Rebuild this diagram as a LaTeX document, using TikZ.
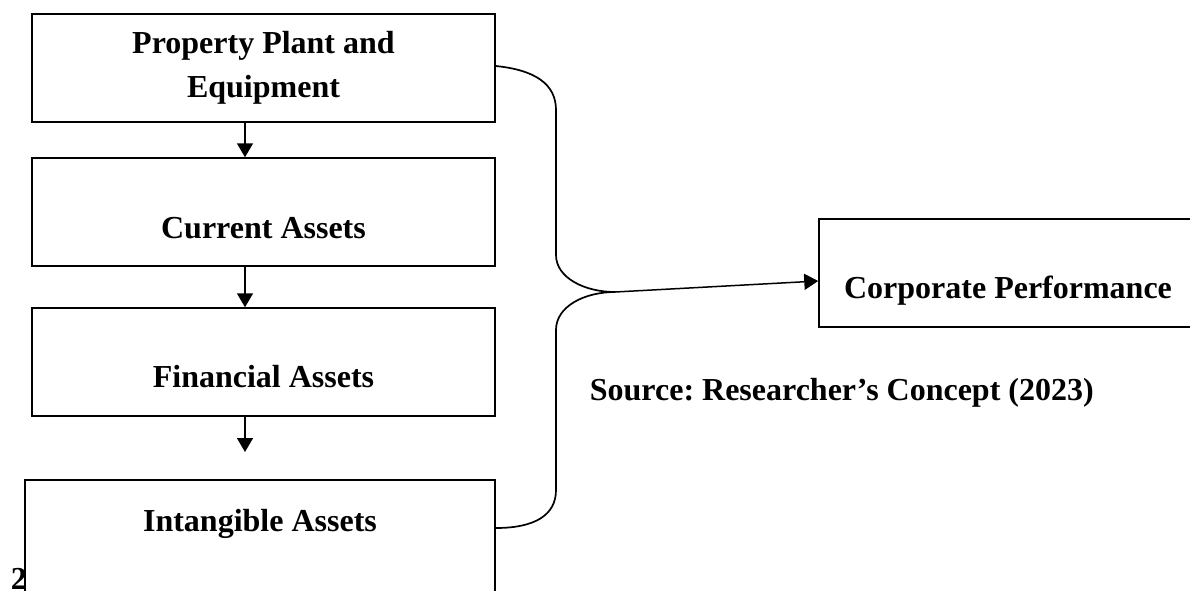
\documentclass[tikz,border=0pt]{standalone}
\usepackage{fontspec}
\setmainfont{Liberation Serif}
\usetikzlibrary{arrows.meta,calc}
\frenchspacing

\tikzset{
  assetbox/.style={draw, line width=0.75pt, rectangle, inner sep=0pt, minimum width=231.5pt, minimum height=54pt},
  lbl/.style={font=\bfseries\fontsize{16}{22}\selectfont, inner sep=0.75pt, align=center},
  flow/.style={line width=0.75pt, -{Triangle[length=7pt,width=8pt]}},
  brace/.style={line width=0.85pt},
}

\begin{document}
\begin{tikzpicture}[x=0.5pt,y=0.5pt,yscale=-1,xscale=1]
\useasboundingbox (0,0) rectangle (1190,590);

%Shapes: Rect
\node[assetbox] (ppe) at (263.5,68) {};
\node[assetbox] (cur) at (263.5,212) {};
\node[assetbox] (fin) at (263.5,362) {};
\node[assetbox, minimum width=235pt, minimum height=70pt] (intang) at (260,550) {};
\node[assetbox, minimum width=205.5pt] (corp) at (1024.5,273) {};

%Straight Lines
\coordinate (a3end) at (245,452);
\draw[flow] ([xshift=-9.25pt]ppe.south) -- ([xshift=-9.25pt]cur.north);
\draw[flow] ([xshift=-9.25pt]cur.south) -- ([xshift=-9.25pt]fin.north);
\draw[flow] ([xshift=-9.25pt]fin.south) -- (a3end);

%Curve Lines
\coordinate (join) at (615,292);
\draw[brace] ([yshift=-1pt]ppe.east) .. controls (535,70) and (556,84) .. (556,110) -- (556,255) .. controls (556,278) and (585,292) .. (join);
\draw[brace] ([yshift=-11pt]intang.east) .. controls (535,528) and (556,515) .. (556,490) -- (556,330) .. controls (556,306) and (585,292) .. (join);
\draw[flow] (join) -- ([yshift=4pt]corp.west);

% Text Node
\node[lbl] (tppe) at (263.5,68) {Property Plant and\\Equipment};
% Text Node
\node[lbl, anchor=base] (tcur) at (263.5,238) {Current Assets};
% Text Node
\node[lbl, anchor=base] (tfin) at (263.5,387) {Financial Assets};
% Text Node
\node[lbl, anchor=base] (tint) at (260,531) {Intangible Assets};
% Text Node
\node[lbl, anchor=base] (tcorp) at (1008,298) {Corporate Performance};
% Text Node
\node[lbl, anchor=base west] (src) at (588,400) {Source: Researcher’s Concept (2023)};
% Text Node
\node[lbl, anchor=base west] (pnum) at (9,589) {2};

\end{tikzpicture}
\end{document}
